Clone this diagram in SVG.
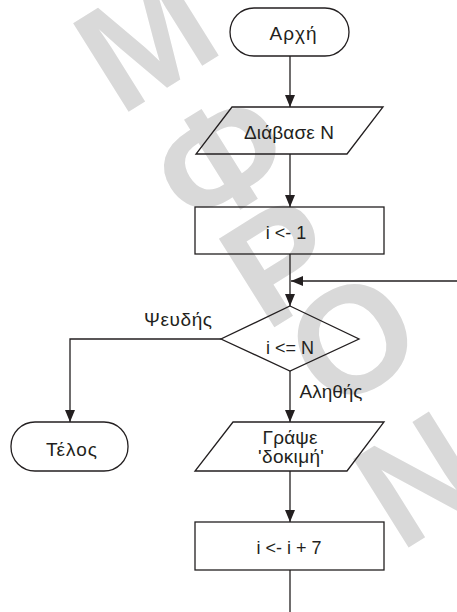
<svg xmlns="http://www.w3.org/2000/svg" width="457" height="612" viewBox="0 0 457 612">
  <style>
    .shape { fill: none; stroke: #231f20; stroke-width: 1.3; }
    .edge { fill: none; stroke: #231f20; stroke-width: 1.3; }
    .lbl { font-family: "Liberation Sans", Arial, sans-serif; font-size: 18px; fill: #231f20; text-anchor: middle; }
    .gr { font-size: 19px; }
    .mark { font-family: "Liberation Sans", Arial, sans-serif; font-weight: bold; font-size: 152px; fill: #d9d9d9; text-anchor: middle; }
  </style>
  <defs>
    <marker id="arrow" markerUnits="userSpaceOnUse" markerWidth="12" markerHeight="10" refX="12" refY="5" orient="auto">
      <path d="M0,0 L12,5 L0,10 z" fill="#231f20"/>
    </marker>
  </defs>
  <rect width="457" height="612" fill="#ffffff"/>

  <!-- background watermark, letters stacked diagonally -->
  <g id="watermark">
    <text class="mark" transform="translate(145,38) rotate(-32)" y="54">Μ</text>
    <text class="mark" transform="translate(220,158) rotate(-32)" y="54">Φ</text>
    <text class="mark" transform="translate(280,260) rotate(-32)" y="54">Ρ</text>
    <text class="mark" transform="translate(352,338) rotate(-32)" y="54">Ο</text>
    <text class="mark" transform="translate(418,478) rotate(-32)" y="54">Ν</text>
  </g>

  <g id="connectors">
    <path class="edge" d="M290,56 V107" marker-end="url(#arrow)"/>
    <path class="edge" d="M290,154 V207" marker-end="url(#arrow)"/>
    <path class="edge" d="M290,254 V306" marker-end="url(#arrow)"/>
    <path class="edge" d="M457,281 H291" marker-end="url(#arrow)"/>
    <path class="edge" d="M221,339 H70 V422" marker-end="url(#arrow)"/>
    <path class="edge" d="M290,371 V422" marker-end="url(#arrow)"/>
    <path class="edge" d="M290,471 V522" marker-end="url(#arrow)"/>
    <path class="edge" d="M290,570 V612"/>
    <text class="lbl gr" x="178" y="326" textLength="68" lengthAdjust="spacing">Ψευδής</text>
    <text class="lbl gr" x="331" y="398" textLength="63" lengthAdjust="spacing">Αληθής</text>
  </g>

  <g id="start">
    <rect class="shape" x="230" y="8" width="119" height="48" rx="24"/>
    <text class="lbl gr" x="293" y="40" textLength="47" lengthAdjust="spacing">Αρχή</text>
  </g>

  <g id="read-n">
    <polygon class="shape" points="232,107 383,107 347,154 196,154"/>
    <text class="lbl gr" x="289" y="139" textLength="90" lengthAdjust="spacing">Διάβασε N</text>
  </g>

  <g id="init-i">
    <rect class="shape" x="195" y="207" width="189" height="47"/>
    <text class="lbl" x="286" y="239">i &lt;- 1</text>
  </g>

  <g id="test">
    <polygon class="shape" points="290,306 359,339 290,371 221,339"/>
    <text class="lbl" x="290" y="354">i &lt;= N</text>
  </g>

  <g id="end">
    <rect class="shape" x="11" y="422" width="117" height="49" rx="24"/>
    <text class="lbl gr" x="71.5" y="456" textLength="51" lengthAdjust="spacing">Τέλος</text>
  </g>

  <g id="write">
    <polygon class="shape" points="233,422 384,422 347,471 195,471"/>
    <text class="lbl gr" x="290" y="444" textLength="55" lengthAdjust="spacing">Γράψε</text>
    <text class="lbl gr" x="291" y="463" textLength="66" lengthAdjust="spacing">'δοκιμή'</text>
  </g>

  <g id="step">
    <rect class="shape" x="195" y="522" width="189" height="48"/>
    <text class="lbl" x="289" y="554">i &lt;- i + 7</text>
  </g>
</svg>
